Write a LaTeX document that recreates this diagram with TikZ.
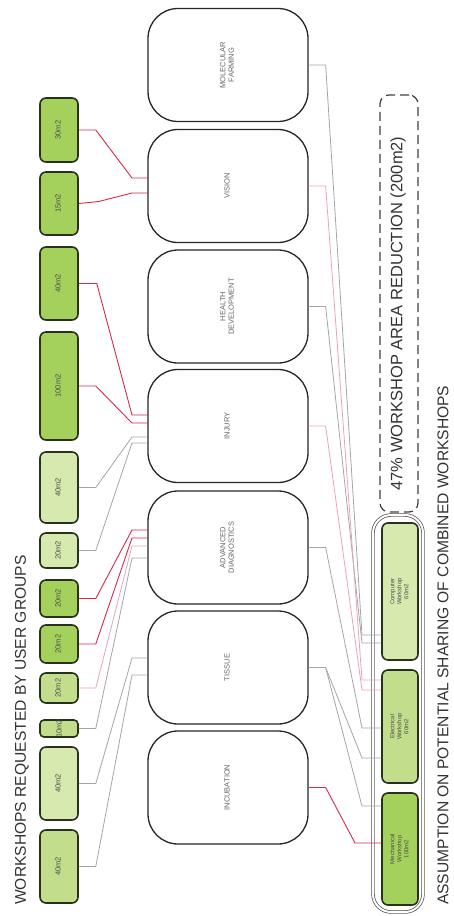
\documentclass[tikz,border=0pt]{standalone}
\usepackage{fontspec}
\setmainfont{Liberation Sans}

\definecolor{wsgreen}{HTML}{A4D05C}
\definecolor{wsmid}{HTML}{C2DE8C}
\definecolor{wslight}{HTML}{D6E9AE}
\definecolor{wsedge}{HTML}{27311D}
\definecolor{linkred}{HTML}{D8294A}
\definecolor{linkpink}{HTML}{E9A3B4}
\definecolor{linkgrey}{HTML}{A5A5A5}

% text turned up the page
\newcommand{\uptext}[1]{\rotatebox{90}{\begin{tabular}{@{}c@{}}#1\end{tabular}}}

\tikzset{
  wsbox/.style={draw=wsedge, line width=1.6pt, rounded corners=6pt, fill=wsgreen,
    minimum width=38pt, inner sep=0pt, text=black!70, font=\fontsize{7.5}{8}\selectfont},
  funcbox/.style={draw=black!85, line width=1.3pt, rounded corners=30pt, fill=white,
    minimum width=160pt, minimum height=113pt, inner sep=0pt, text=black!60,
    font=\fontsize{7.5}{8.5}\selectfont},
  headtext/.style={inner sep=0pt, text=black!80, font=\fontsize{15.6}{16}\selectfont},
  redlink/.style={draw=linkred, line width=0.9pt},
  pinklink/.style={draw=linkpink, line width=0.8pt},
  greylink/.style={draw=linkgrey, line width=0.8pt}
}

\begin{document}
\begin{tikzpicture}[x=1pt,y=-1pt]
\useasboundingbox (0,0) rectangle (454,916);

% titles
\node[headtext, rotate=90, anchor=west] (reqtitle) at (22,905) {WORKSHOPS REQUESTED BY USER GROUPS};
\node[headtext, rotate=90, anchor=west] (sharetitle) at (443,905) {ASSUMPTION ON POTENTIAL SHARING OF COMBINED WORKSHOPS};

% workshops requested
\node[wsbox, minimum height=64pt] (ws1) at (59,130) {\uptext{30m2}};
\node[wsbox, minimum height=63pt] (ws2) at (59,203.5) {\uptext{15m2}};
\node[wsbox, minimum height=73pt] (ws3) at (59,283.5) {\uptext{40m2}};
\node[wsbox, minimum height=108pt] (ws4) at (59,386) {\uptext{100m2}};
\node[wsbox, fill=wslight, minimum height=71pt] (ws5) at (59,487.5) {\uptext{40m2}};
\node[wsbox, fill=wslight, minimum height=35pt] (ws6) at (59,550.5) {\uptext{20m2}};
\node[wsbox, minimum height=37pt] (ws7) at (59,598.5) {\uptext{20m2}};
\node[wsbox, minimum height=38pt] (ws8) at (59,644) {\uptext{20m2}};
\node[wsbox, fill=wsmid, minimum height=30pt] (ws9) at (59,688) {\uptext{20m2}};
\node[wsbox, fill=wsmid, minimum height=17pt, rounded corners=4pt] (ws10) at (59,728.5) {\rotatebox{90}{\makebox[0pt]{10m2}}};
\node[wsbox, fill=wslight, minimum height=73pt] (ws11) at (59,783.5) {\uptext{40m2}};
\node[wsbox, fill=wsmid, minimum height=73pt] (ws12) at (59,866.5) {\uptext{40m2}};

% user groups
\node[funcbox] (molfarm) at (228,65) {\uptext{MOLECULAR\\FARMING}};
\node[funcbox] (vision) at (228,186) {\uptext{VISION}};
\node[funcbox] (health) at (228,306.5) {\uptext{HEALTH\\DEVELOPMENT}};
\node[funcbox] (injury) at (228,426) {\uptext{INJURY}};
\node[funcbox] (advdiag) at (228,547.5) {\uptext{ADVANCED\\DIAGNOSTICS}};
\node[funcbox] (tissue) at (228,667.5) {\uptext{TISSUE}};
\node[funcbox] (incub) at (228,787.5) {\uptext{INCUBATION}};

% reduction note
\node[draw=black!75, line width=1.2pt, dash pattern=on 9pt off 5pt, rounded corners=9pt,
  minimum width=38pt, minimum height=417pt] (reduction) at (399,303.5) {};
\node[inner sep=0pt, text=black!80, font=\fontsize{16.5}{17}\selectfont] (redtext) at (399,313.5)
  {\uptext{47\% WORKSHOP AREA REDUCTION (200m2)}};

% combined workshops
\node[draw=black!70, double=white, double distance=2pt, line width=0.7pt, rounded corners=18pt,
  minimum width=50pt, minimum height=397pt] (combined) at (398,713.5) {};
\node[wsbox, fill=wslight, minimum width=36pt, minimum height=137pt, font=\fontsize{6}{7}\selectfont]
  (computer) at (400,591.5) {\uptext{Computer\\Workshop\\60m2}};
\node[wsbox, fill=wsmid, minimum width=36pt, minimum height=113pt, font=\fontsize{6}{7}\selectfont]
  (electrical) at (400,726.5) {\uptext{Electrical\\Workshop\\60m2}};
\node[wsbox, minimum width=36pt, minimum height=112pt, font=\fontsize{6}{7}\selectfont]
  (mechanical) at (400,849) {\uptext{Mechanical\\Workshop\\100m2}};

% requested -> user groups
\draw[redlink] (ws1.east) -- ++(17,0) -- (132,178) -- (vision.west |- 0,178);
\draw[redlink] (ws2.east) -- ++(20,-2) -- (132,193) -- (vision.west |- 0,193);
\draw[redlink] (ws3.east) -- ++(18,0) -- (132,415) -- (injury.west |- 0,415);
\draw[redlink] (ws4.east) -- ++(17,0) -- (132,423) -- (injury.west |- 0,423);
\draw[greylink] (ws5.east) -- ++(17,0) -- (132,437) -- (injury.west |- 0,437);
\draw[greylink] (ws6.east) -- ++(17,0) -- (132,443) -- (injury.west |- 0,443);
\draw[redlink] (ws7.east) -- ++(17,0) -- (132,530) -- (advdiag.west |- 0,530);
\draw[redlink] (ws8.east) -- ++(17,0) -- (132,538) -- (advdiag.west |- 0,538);
\draw[pinklink] (ws9.east) -- ++(17,0) -- (132,546) -- (advdiag.west |- 0,546);
\draw[greylink] (ws10.east) -- ++(17,0) -- (132,558) -- (advdiag.west |- 0,558);
\draw[greylink] (ws11.east) -- ++(17,0) -- (132,658) -- (tissue.west |- 0,658);
\draw[greylink] (ws12.east) -- ++(17,0) -- (132,675) -- (tissue.west |- 0,675);

% user groups -> combined workshops
\draw[greylink] (molfarm.east) -- ++(17,0) -- (362,635) -- (computer.west |- 0,635);
\draw[greylink] (health.east) -- ++(17,0) -- (362,643) -- (computer.west |- 0,643);
\draw[pinklink] (vision.east) -- ++(17,0) -- (362,680) -- (electrical.west |- 0,680);
\draw[pinklink] (injury.east) -- ++(17,0) -- (362,690) -- (electrical.west |- 0,690);
\draw[greylink] (advdiag.east) -- ++(17,0) -- (362,728) -- (electrical.west |- 0,728);
\draw[greylink] (tissue.east) -- ++(17,0) -- (362,758) -- (electrical.west |- 0,758);
\draw[greylink] (tissue.east) -- ++(17,0) -- (362,806) -- (mechanical.west |- 0,806);
\draw[redlink] (incub.east) -- ++(17,0) -- (355,843) -- (mechanical.west |- 0,843);
\end{tikzpicture}
\end{document}
